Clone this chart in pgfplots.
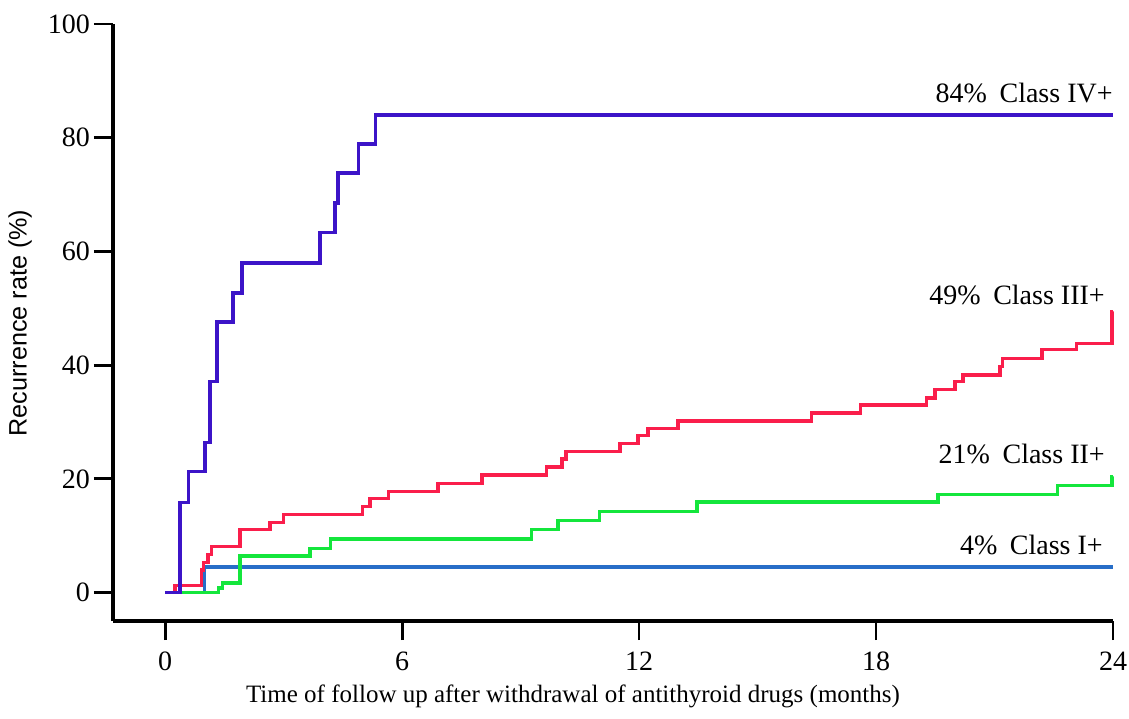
\documentclass[border=0pt]{standalone}
\usepackage{fontspec}
\setmainfont{Liberation Serif}
\setsansfont{Liberation Sans}
\usepackage{pgfplots}
\pgfplotsset{compat=1.18}
\definecolor{c4}{RGB}{60,20,200}
\definecolor{c3}{RGB}{250,30,75}
\definecolor{c2}{RGB}{20,230,60}
\definecolor{c1}{RGB}{40,110,200}
\begin{document}
\begin{tikzpicture}
\begin{axis}[name=ax,
  scale only axis, width=500pt, height=298.5pt,
  xmin=-1.32, xmax=24, ymin=-5, ymax=100,
  axis x line*=bottom, axis y line*=left,
  axis line style={line width=1.9pt, black},
  every tick/.style={black, line width=1.4pt},
  tick align=outside, major tick length=9.5pt,
  xtick={0,6,12,18,24}, ytick={0,20,40,60,80,100},
  minor tick num=0,
  /pgf/number format/assume math mode=true,
  tick label style={font=\fontsize{14}{16}\selectfont},
  xticklabel style={yshift=-2.5pt},
  yticklabel style={xshift=1.5pt},
  xlabel={Time of follow up after withdrawal of antithyroid drugs (months)},
  xlabel style={at={(axis description cs:0.46,0)}, anchor=center, yshift=-37.5pt, font=\fontsize{12.5}{14}\selectfont},
  ylabel={Recurrence rate (\%)},
  ylabel style={at={(axis description cs:-0.093,0.499)}, anchor=center, font=\sffamily\fontsize{12.6}{14}\selectfont},
  clip=false,
]
\addplot[c1, line width=1.7pt, const plot] coordinates {
(0,0) (1.0,4.5) (24,4.5)};
\addplot[c2, line width=1.7pt, const plot] coordinates {
(0,0) (1.35,0.8) (1.45,1.7) (1.9,6.4) (3.67,7.8) (4.18,9.4) (9.28,11.1) (9.95,12.7) (11.0,14.3) (13.47,15.9) (19.57,17.2) (22.6,18.8) (23.97,20.4) (24,20.4)};
\addplot[c3, line width=1.7pt, const plot] coordinates {
(0,0) (0.25,1.2) (0.92,4.0) (0.97,5.3) (1.09,6.7) (1.18,8.1) (1.9,11.1) (2.66,12.3) (3.0,13.7) (4.99,15.1) (5.19,16.5) (5.65,17.8) (6.91,19.2) (8.02,20.7) (9.66,22.1) (10.05,23.5) (10.15,24.8) (11.52,26.2) (11.97,27.6) (12.23,28.9) (12.99,30.2) (16.37,31.6) (17.6,33.0) (19.28,34.2) (19.49,35.7) (20.0,37.1) (20.2,38.3) (21.14,39.8) (21.2,41.2) (22.2,42.7) (23.08,43.8) (23.97,49.4) (24,49.4)};
\addplot[c4, line width=1.7pt, const plot] coordinates {
(0,0) (0.38,15.8) (0.59,21.3) (1.01,26.4) (1.14,37.1) (1.31,47.6) (1.72,52.7) (1.95,58.0) (3.92,63.3) (4.3,68.5) (4.38,73.8) (4.89,78.9) (5.32,84.0) (24,84.0)};
\begin{scope}[every node/.style={anchor=east, inner sep=0pt, font=\fontsize{14}{16}\selectfont}]
\node at (axis cs:24,87.9) {84\%\hspace{0.45em}Class IV+};
\node at (axis cs:23.8,52.4) {49\%\hspace{0.45em}Class III+};
\node at (axis cs:23.8,24.3) {21\%\hspace{0.45em}Class II+};
\node at (axis cs:23.75,8.4) {4\%\hspace{0.45em}Class I+};
\end{scope}
\end{axis}
\pgfresetboundingbox
\path[use as bounding box] ([shift={(-56.5pt,-48.5pt)}]ax.south west) rectangle ([shift={(8pt,12pt)}]ax.north east);
\end{tikzpicture}
\end{document}
